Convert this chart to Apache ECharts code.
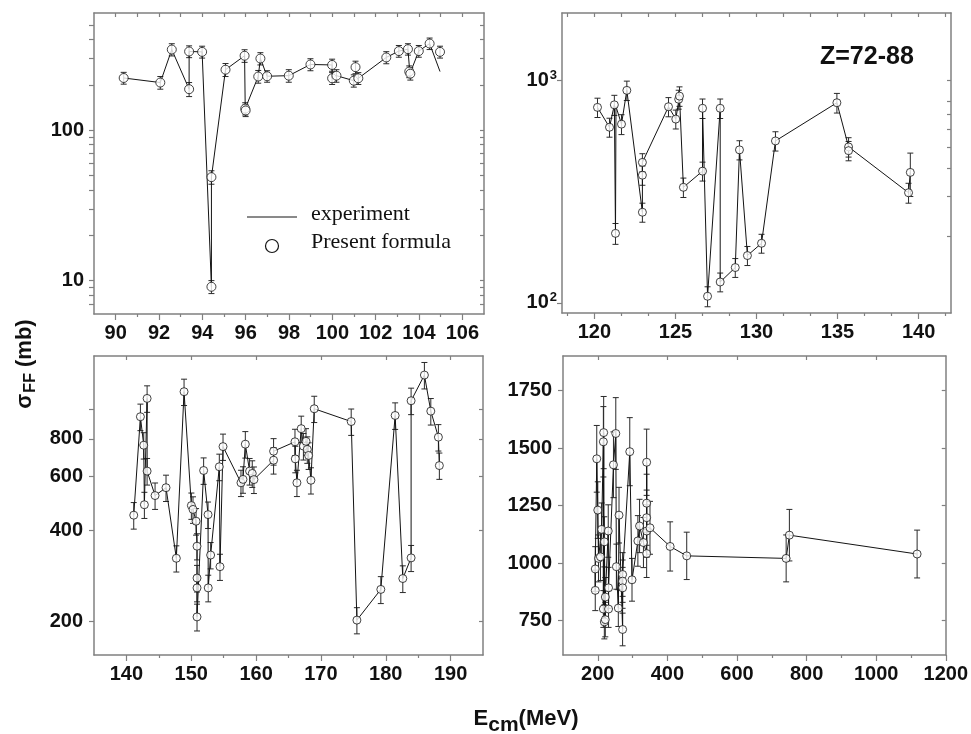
<!DOCTYPE html>
<html><head><meta charset="utf-8">
<script src="https://cdn.jsdelivr.net/npm/echarts@6/dist/echarts.min.js"></script>
<style>html,body{margin:0;padding:0;background:#fff}#c{width:971px;height:734px}</style>
</head><body><div id="c"></div>
<script>
// ---------- Panel 1 ----------
const p1CircX = [90.37,92.06,92.59,93.39,93.39,93.99,94.42,94.42,95.07,95.95,95.98,96.0,96.58,96.68,96.99,97.99,98.99,99.99,99.99,100.19,100.99,101.07,101.2,102.49,103.07,103.49,103.55,103.6,103.99,104.49,104.97];
const p1CircY = [222,207,343,333,187,331,48.7,9.1,252,312,139,135,227,299,228,230,273,271,221,230,213,262,221,304,335,345,245,237,335,376,331];
const p1Err   = [20,20,32,30,20,30,5,0.9,25,30,13,12,22,28,20,22,25,25,20,22,20,25,20,28,30,30,22,22,30,33,30];
const p1LineX = [90.37,92.06,92.59,93.39,93.39,93.99,94.42,94.42,95.07,95.95,95.98,96.58,96.68,96.99,97.99,98.99,99.99,99.99,100.19,100.99,101.2,102.49,103.07,103.49,103.58,103.99,104.49,104.97];
const p1LineY = [222,207,343,187,333,331,9.1,48.7,252,312,139,227,299,228,230,273,271,221,230,213,221,304,335,345,237,335,376,245];
const p1XLabels = [90,92,94,96,98,100,102,104,106];
const p1XMinor = [91,93,95,97,99,101,103,105];
const p1YLabels = [10,100];
const p1YTicks = [7,8,9,10,20,30,40,50,60,70,80,90,100,200,300,400,500];

// ---------- Panel 2 ----------
const p2CircX = [120.19,120.93,121.23,121.3,121.67,122.0,122.96,122.96,122.96,124.57,125.02,125.2,125.25,125.49,126.67,126.67,126.98,127.76,127.76,128.69,128.95,129.44,130.31,131.17,134.96,135.68,135.68,139.38,139.49];
const p2CircY = [754,614,774,205,634,899,427,374,255,759,668,820,847,330,747,390,107,747,124,144,486,163,185,533,791,501,482,312,385];
const p2Err   = [75,60,80,22,65,90,40,37,25,75,65,80,85,33,75,38,11,75,12,14,48,16,18,53,80,50,48,32,85];
const p2LineX = [120.19,120.93,121.23,121.3,121.33,121.67,122.0,122.96,122.96,124.57,125.02,125.25,125.49,126.67,126.67,126.98,127.76,127.76,128.69,128.95,129.44,130.31,131.17,134.96,135.68,139.38,139.49];
const p2LineY = [754,614,774,205,760,634,899,255,427,759,668,847,330,390,747,107,747,124,144,486,163,185,533,791,501,312,385];
const p2XLabels = [120,125,130,135,140];
const p2XMinor = [118.33,121.67,123.33,126.67,128.33,131.67,133.33,136.67,138.33,141.67];
const p2YLabels = [100,1000];
const p2YRightTicks = [200,300,400,500,600,700,800,1000];

// ---------- Panel 3 ----------
const p3CircX = [141.13,142.16,142.67,142.77,143.19,143.19,144.42,146.11,147.7,148.89,150.02,150.27,150.74,150.89,150.89,150.89,150.89,151.91,152.59,152.62,152.99,154.33,154.43,154.9,157.67,157.98,158.34,159.0,159.41,159.67,162.7,162.7,166.0,166.05,166.3,166.96,167.3,167.7,167.9,168.1,168.46,168.97,174.67,175.55,179.24,181.45,182.63,183.91,183.91,185.96,186.95,188.12,188.27];
const p3CircY = [448,946,762,485,1087,626,520,552,323,1144,482,468,428,354,278,258,207,629,450,258,331,647,303,754,573,588,768,626,615,587,728,680,782,687,573,864,757,785,738,705,584,1005,912,202,255,955,277,324,1068,1298,987,810,653];
const p3Err   = [45,95,76,48,109,63,52,55,32,114,48,47,43,35,28,26,21,63,45,26,33,65,30,75,57,59,77,63,62,59,73,68,78,69,57,86,76,79,74,71,58,100,91,20,26,96,28,32,107,130,99,81,65];
const p3LineX = [141.13,142.16,142.67,142.77,143.19,143.19,144.42,146.11,147.7,148.89,150.02,150.27,150.74,150.89,150.89,151.91,152.59,152.62,152.99,154.33,154.43,154.9,157.67,157.98,158.34,159.0,159.41,159.67,162.7,162.7,166.0,166.05,166.3,166.96,167.3,167.7,167.9,168.1,168.46,168.97,174.67,175.55,179.24,181.45,182.63,183.91,183.91,185.96,186.95,188.12,188.27];
const p3LineY = [448,946,762,485,1087,626,520,552,323,1144,482,468,428,354,207,629,450,258,331,647,303,754,573,588,768,626,615,587,680,728,782,687,573,864,757,785,738,705,584,1005,912,202,255,955,277,324,1068,1298,987,810,653];
const p3XLabels = [140,150,160,170,180,190];
const p3XMinor = [145,155,165,175,185];
const p3YLabels = [200,400,600,800];
const p3YTicks = [200,400,600,800,1000];

// ---------- Panel 4 ----------
const p4CircX = [192.7,192.7,197,200,202,207.6,211,216,216.9,218.8,216,218.8,221.6,221.6,230,230.9,230.9,245,251.7,253.4,259,261,271.3,271.3,271.3,271.3,291.9,298.3,315.2,320,331.2,340.4,340.4,340.4,340.4,340.4,350,407.9,455.6,741.3,750.6,1117.7];
const p4CircY = [974,881,1453,1230,1020,1027,1146,1527,1567,1092,800,744,754,852,1139,892,800,1427,1563,984,804,1208,950,921,892,711,1484,927,1096,1161,1089,1438,1260,1197,1139,1041,1153,1072,1031,1020,1121,1039];
const p4Err   = [97,88,145,123,102,103,115,153,157,109,80,74,75,85,114,89,80,143,156,98,80,121,95,92,89,71,148,93,110,116,109,144,126,120,114,104,115,107,103,102,112,104];
const p4LineX = [192.7,192.7,197,200,202,207.6,211,216,216,216.9,218.8,218.8,221.6,221.6,230,230.9,230.9,245,251.7,253.4,259,261,271.3,271.3,291.9,298.3,315.2,320,331.2,340.4,340.4,340.4,350,407.9,455.6,741.3,750.6,1117.7];
const p4LineY = [881,974,1453,1230,1020,1027,1146,1527,800,1567,744,1092,754,852,1139,800,892,1427,1563,984,804,1208,711,950,1484,927,1096,1161,1089,1041,1438,1139,1153,1072,1031,1020,1121,1039];
const p4XLabels = [200,400,600,800,1000,1200];
const p4XMinor = [300,500,700,900,1100];
const p4YLabels = [750,1000,1250,1500,1750];

// ---------- build ----------
const FONT = '"Liberation Sans", Arial, Helvetica, sans-serif';
const FRAME = '#808080';
const INK = '#141414';
const plain = v => String(v);
const lbl = {color: '#111', fontFamily: FONT, fontWeight: 'bold', fontSize: 20, formatter: plain};

const panels = [
  {grid: {left: 94, top: 13, width: 390, height: 301},
   xType: 'value', xMin: 89, xMax: 107, xLabels: p1XLabels, xMinor: p1XMinor, xTop: p1XLabels.concat(p1XMinor),
   yType: 'log', yMin: 6, yMax: 600, yLabels: p1YLabels, yLeft: p1YTicks, yRight: p1YTicks, yMargin: 10,
   cx: p1CircX, cy: p1CircY, ce: p1Err, lx: p1LineX, ly: p1LineY, sym: 9},
  {grid: {left: 562, top: 13, width: 389, height: 300},
   xType: 'value', xMin: 118, xMax: 142, xLabels: p2XLabels, xMinor: p2XMinor, xTop: p2XLabels.concat(p2XMinor),
   yType: 'log', yMin: 90, yMax: 2000, yLabels: p2YLabels, yLeft: p2YLabels, yRight: p2YRightTicks, yMargin: 5,
   yFmt: v => '10{s|' + Math.round(Math.log10(v)) + '}',
   cx: p2CircX, cy: p2CircY, ce: p2Err, lx: p2LineX, ly: p2LineY, sym: 8},
  {grid: {left: 94, top: 356, width: 389, height: 299},
   xType: 'value', xMin: 135, xMax: 195, xLabels: p3XLabels, xMinor: p3XMinor, xTop: p3XLabels,
   yType: 'log', yMin: 155, yMax: 1500, yLabels: p3YLabels, yLeft: p3YTicks, yRight: p3YTicks, yMargin: 11,
   cx: p3CircX, cy: p3CircY, ce: p3Err, lx: p3LineX, ly: p3LineY, sym: 8},
  {grid: {left: 563, top: 356, width: 389, height: 299},
   xType: 'value', xMin: 100, xMax: 1200, xLabels: p4XLabels, xMinor: p4XMinor, xTop: p4XLabels.slice(0, 5),
   yType: 'value', yMin: 600, yMax: 1900, yLabels: p4YLabels, yLeft: p4YLabels, yRight: p4YLabels, yMargin: 11,
   cx: p4CircX, cy: p4CircY, ce: p4Err, lx: p4LineX, ly: p4LineY, sym: 8}
];

const grids = [], xAxes = [], yAxes = [], series = [];
const line = {show: true, onZero: false, lineStyle: {color: FRAME, width: 1.5}};

function renderErr(params, api) {
  const x = api.value(0), lo = api.value(1), hi = api.value(2);
  const a = api.coord([x, lo]), b = api.coord([x, hi]);
  const w = 3, st = {stroke: '#2a2a2a', lineWidth: 1};
  return {type: 'group', children: [
    {type: 'line', shape: {x1: a[0], y1: a[1], x2: b[0], y2: b[1]}, style: st},
    {type: 'line', shape: {x1: a[0] - w, y1: a[1], x2: a[0] + w, y2: a[1]}, style: st},
    {type: 'line', shape: {x1: b[0] - w, y1: b[1], x2: b[0] + w, y2: b[1]}, style: st}
  ]};
}

panels.forEach((p, i) => {
  grids.push(Object.assign({containLabel: false}, p.grid));
  const xb = {gridIndex: i, type: p.xType, min: p.xMin, max: p.xMax, splitLine: {show: false}};
  xAxes.push(Object.assign({}, xb, {position: 'bottom', axisLine: line,
    axisTick: {show: true, length: 6, customValues: p.xLabels, lineStyle: {color: FRAME, width: 1.2}},
    axisLabel: Object.assign({customValues: p.xLabels, margin: 9}, lbl)}));
  xAxes.push(Object.assign({}, xb, {position: 'bottom', axisLine: {show: false},
    axisTick: {show: true, length: 3, customValues: p.xMinor, lineStyle: {color: FRAME, width: 1.2}},
    axisLabel: {show: false}}));
  xAxes.push(Object.assign({}, xb, {position: 'top', axisLine: line,
    axisTick: {show: true, inside: true, length: 4, customValues: p.xTop, lineStyle: {color: FRAME, width: 1.2}},
    axisLabel: {show: false}}));
  const yb = {gridIndex: i, type: p.yType, min: p.yMin, max: p.yMax, splitLine: {show: false}};
  if (p.yType === 'log') yb.logBase = 10;
  const yl = Object.assign({customValues: p.yLabels, margin: p.yMargin}, lbl);
  if (p.yFmt) {
    yl.formatter = p.yFmt;
    yl.rich = {s: {fontFamily: FONT, fontWeight: 'bold', fontSize: 13, color: '#111', padding: [0, 0, 10, 1]}};
  }
  yAxes.push(Object.assign({}, yb, {position: 'left', axisLine: line,
    axisTick: {show: true, length: 5, customValues: p.yLeft, lineStyle: {color: FRAME, width: 1.2}},
    axisLabel: yl}));
  yAxes.push(Object.assign({}, yb, {position: 'right', axisLine: line,
    axisTick: {show: true, inside: true, length: 4, customValues: p.yRight, lineStyle: {color: FRAME, width: 1.2}},
    axisLabel: {show: false}}));

  const xi = 3 * i, yi = 2 * i;
  series.push({type: 'custom', xAxisIndex: xi, yAxisIndex: yi, renderItem: renderErr,
    encode: {x: 0, y: [1, 2]}, clip: false, z: 2,
    data: p.cx.map((x, k) => [x, p.cy[k] - p.ce[k], p.cy[k] + p.ce[k]])});
  series.push({type: 'line', xAxisIndex: xi, yAxisIndex: yi, showSymbol: false, z: 3,
    lineStyle: {color: INK, width: 1}, data: p.lx.map((x, k) => [x, p.ly[k]])});
  series.push({type: 'scatter', xAxisIndex: xi, yAxisIndex: yi, symbol: 'circle', symbolSize: p.sym, z: 4,
    itemStyle: {color: '#fff', borderColor: INK, borderWidth: 1},
    data: p.cx.map((x, k) => [x, p.cy[k]])});
});

const chart = echarts.init(document.getElementById('c'), null, {renderer: 'canvas'});
chart.setOption({
  animation: false,
  backgroundColor: '#fff',
  grid: grids, xAxis: xAxes, yAxis: yAxes, series: series,
  graphic: [
    {type: 'text', left: 820, top: 45, style: {text: 'Z=72-88', fontFamily: FONT, fontWeight: 'bold', fontSize: 25, fill: '#111'}},
    {type: 'line', shape: {x1: 247, y1: 217, x2: 297, y2: 217}, style: {stroke: INK, lineWidth: 1}},
    {type: 'circle', shape: {cx: 272, cy: 246, r: 6.5}, style: {stroke: INK, fill: '#fff', lineWidth: 1.2}},
    {type: 'text', left: 311, top: 203, style: {text: 'experiment', fontFamily: '"Liberation Serif", "Times New Roman", serif', fontSize: 22, fill: '#111'}},
    {type: 'text', left: 311, top: 231, style: {text: 'Present formula', fontFamily: '"Liberation Serif", "Times New Roman", serif', fontSize: 22, fill: '#111'}},
    {type: 'text', x: 25, y: 364, rotation: Math.PI / 2,
     style: {text: 'σ{s|FF} (mb)', align: 'center', verticalAlign: 'middle', fontFamily: FONT, fontWeight: 'bold', fontSize: 22, fill: '#111',
       rich: {s: {fontFamily: FONT, fontWeight: 'bold', fontSize: 16, fill: '#111', padding: [12, 0, 0, 1]}}}},
    {type: 'text', x: 526, y: 719,
     style: {text: 'E{s|cm}(MeV)', align: 'center', verticalAlign: 'middle', fontFamily: FONT, fontWeight: 'bold', fontSize: 22, fill: '#111',
       rich: {s: {fontFamily: FONT, fontWeight: 'bold', fontSize: 21, fill: '#111', padding: [12, 0, 0, 0]}}}}
  ]
});
</script></body></html>
